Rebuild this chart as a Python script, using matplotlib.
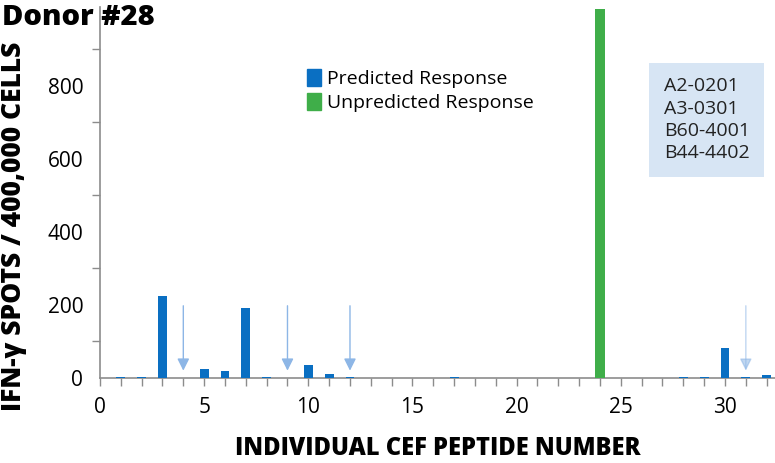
import matplotlib.pyplot as plt
import numpy as np
from matplotlib.patches import Patch
from matplotlib.ticker import MultipleLocator, FixedLocator

plt.rcParams['font.family'] = ['Open Sans', 'DejaVu Sans']

# peptide responses
peptides = [1, 2, 3, 5, 6, 7, 8, 10, 11, 12, 17, 28, 29, 30, 31, 32]
predicted = [2, 2, 225, 25, 20, 190, 2, 35, 10, 3, 2, 2, 2, 82, 2, 8]
unpredicted_peptide = [24]
unpredicted = [1010]
arrow_peptides = [4, 9, 12, 31]
arrow_top, arrow_tip = 205, 12
alleles = ['A2-0201', 'A3-0301', 'B60-4001', 'B44-4402']

BLUE = '#0a6fc2'
GREEN = '#3fae49'
ARROW = '#8db6e6'

fig = plt.figure(figsize=(7.75, 4.63), dpi=100)
ax = fig.add_axes([0.129, 0.184, 0.871, 0.80])

ax.bar(peptides, predicted, width=0.42, color=BLUE, zorder=3)
ax.bar(unpredicted_peptide, unpredicted, width=0.45, color=GREEN, zorder=3)

for p in arrow_peptides:
    alpha = 0.55 if p == 31 else 1.0
    ax.annotate('', xy=(p, arrow_tip), xytext=(p, arrow_top),
                arrowprops=dict(arrowstyle='-|>', color=ARROW, lw=1.0,
                                mutation_scale=18, alpha=alpha), zorder=2)

ax.set_xlim(0, 32.4)
ax.set_ylim(0, 1015)
ax.xaxis.set_major_locator(MultipleLocator(5))
ax.xaxis.set_minor_locator(MultipleLocator(1))
ax.yaxis.set_major_locator(FixedLocator([0, 200, 400, 600, 800]))
ax.yaxis.set_minor_locator(FixedLocator([100, 300, 500, 700, 900]))

for s in ['top', 'right']:
    ax.spines[s].set_visible(False)
for s in ['left', 'bottom']:
    ax.spines[s].set_color('#8c8c8c')
    ax.spines[s].set_linewidth(1.2)

ax.tick_params(axis='x', which='both', direction='out', color='#8c8c8c',
               length=6, width=1, labelsize=15, pad=8)
ax.tick_params(axis='y', which='major', length=0, labelsize=15, pad=12)
ax.tick_params(axis='y', which='minor', length=6, width=1, color='#8c8c8c')

ax.set_xlabel('INDIVIDUAL CEF PEPTIDE NUMBER', fontsize=17, fontweight='heavy', labelpad=13)
ax.set_ylabel('IFN-γ SPOTS / 400,000 CELLS', fontsize=19, fontweight='heavy')
ax.yaxis.set_label_coords(-0.108, 0.41)

fig.text(0.003, 0.962, 'Donor #28', fontsize=21, fontweight='heavy', va='center', ha='left')

handles = [Patch(color=BLUE, label='Predicted Response'),
           Patch(color=GREEN, label='Unpredicted Response')]
ax.legend(handles=handles, loc='upper left', bbox_to_anchor=(0.295, 0.855),
          frameon=False, fontsize=14, handlelength=0.75, handleheight=0.95,
          handletextpad=0.3, labelspacing=0.25, borderaxespad=0)

ax.text(0.899, 0.697, '\n'.join(alleles), transform=ax.transAxes,
        fontsize=14, ha='center', va='center', linespacing=1.3,
        multialignment='left', color='#222222',
        bbox=dict(boxstyle='square,pad=0.75', fc='#d7e5f4', ec='none'))

fig.savefig('out.png', dpi=100)
